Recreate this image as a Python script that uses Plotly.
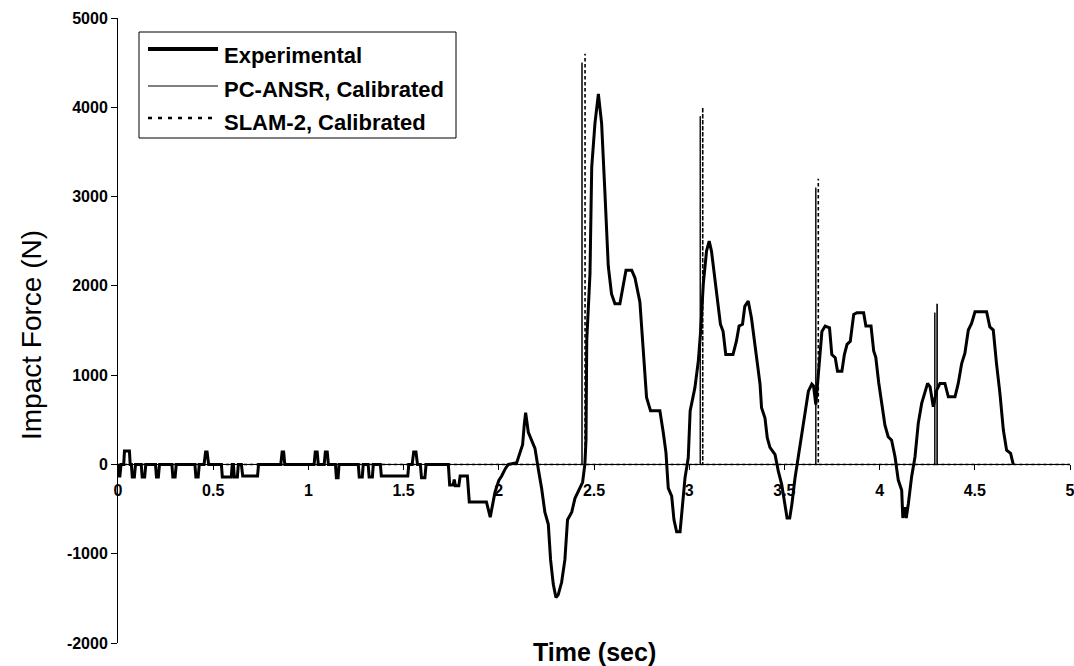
import plotly.graph_objects as go

# ---------------- data ----------------
exp_t = [0.000, 0.003, 0.010, 0.016, 0.030, 0.034, 0.060, 0.064, 0.070, 0.075, 0.086, 0.092,
         0.122, 0.127, 0.140, 0.146, 0.197, 0.202, 0.212, 0.218, 0.283, 0.288, 0.300, 0.306,
         0.404, 0.409, 0.421, 0.427, 0.452, 0.460, 0.468, 0.476, 0.543, 0.548, 0.595, 0.600,
         0.606, 0.611, 0.627, 0.632, 0.648, 0.655, 0.733, 0.738, 0.855, 0.862, 0.870, 0.876,
         1.030, 1.036, 1.046, 1.052, 1.083, 1.089, 1.099, 1.105, 1.142, 1.147, 1.156, 1.161,
         1.262, 1.267, 1.283, 1.288, 1.314, 1.319, 1.336, 1.341, 1.378, 1.383, 1.522, 1.527,
         1.545, 1.553, 1.565, 1.573, 1.588, 1.594, 1.612, 1.618, 1.735, 1.742, 1.760, 1.766,
         1.772, 1.790, 1.797, 1.835, 1.845, 1.935, 1.955, 1.965, 1.980, 2.000, 2.015, 2.035,
         2.050, 2.094, 2.110, 2.125, 2.134, 2.141, 2.155, 2.172, 2.190, 2.207, 2.225, 2.242,
         2.260, 2.272, 2.286, 2.300, 2.312, 2.330, 2.347, 2.361, 2.383, 2.400, 2.418, 2.440,
         2.452, 2.458, 2.462, 2.479, 2.488, 2.505, 2.523, 2.540, 2.557, 2.575, 2.592, 2.610,
         2.636, 2.654, 2.668, 2.698, 2.715, 2.741, 2.759, 2.776, 2.797, 2.846, 2.864, 2.878,
         2.890, 2.908, 2.920, 2.934, 2.952, 2.978, 2.995, 3.005, 3.030, 3.048, 3.060, 3.074,
         3.091, 3.105, 3.117, 3.134, 3.151, 3.164, 3.178, 3.192, 3.230, 3.248, 3.262, 3.280,
         3.292, 3.310, 3.327, 3.345, 3.363, 3.372, 3.380, 3.398, 3.410, 3.424, 3.451, 3.468,
         3.486, 3.504, 3.514, 3.528, 3.539, 3.556, 3.574, 3.591, 3.609, 3.626, 3.644, 3.653,
         3.665, 3.676, 3.688, 3.697, 3.714, 3.737, 3.749, 3.767, 3.779, 3.802, 3.815, 3.829,
         3.846, 3.864, 3.881, 3.916, 3.928, 3.955, 3.969, 3.980, 3.995, 4.010, 4.028, 4.045,
         4.063, 4.081, 4.098, 4.116, 4.122, 4.132, 4.140, 4.151, 4.168, 4.186, 4.203, 4.221,
         4.238, 4.252, 4.265, 4.282, 4.300, 4.317, 4.343, 4.361, 4.396, 4.413, 4.431, 4.448,
         4.466, 4.483, 4.501, 4.562, 4.579, 4.597, 4.614, 4.632, 4.650, 4.667, 4.688, 4.702]
exp_v = [0, -130, -130, 0, 0, 150, 150, 0, 0, -140, -140, 0,
         0, -140, -140, 0, 0, -140, -140, 0, 0, -140, -140, 0,
         0, -140, -140, 0, 0, 140, 140, 0, 0, -140, -140, 0,
         0, -140, -140, 0, 0, -130, -130, 0, 0, 140, 140, 0,
         0, 140, 140, 0, 0, 140, 140, 0, 0, -150, -150, 0,
         0, -140, -140, 0, 0, -140, -140, 0, 0, -130, -130, 0,
         0, 140, 140, 0, 0, -150, -150, 0, 0, -230, -230, -170,
         -240, -240, -130, -130, -420, -420, -590, -470, -310, -180, -130, -45,
         0, 20, 130, 220, 450, 580, 360, 270, 180, -45, -270, -535,
         -670, -1070, -1340, -1490, -1460, -1320, -1070, -620, -535, -380, -290, -200,
         0, 270, 1390, 2140, 3330, 3820, 4150, 3820, 3060, 2220, 1910, 1800,
         1800, 2000, 2175, 2175, 2090, 1820, 1290, 750, 600, 600, 355, 133,
         -266, -355, -620, -755, -755, -150, 75, 600, 860, 1160, 1490, 2020,
         2390, 2500, 2390, 2090, 1830, 1570, 1490, 1230, 1230, 1380, 1550, 1570,
         1770, 1830, 1640, 1340, 1045, 900, 635, 520, 300, 190, 110, -75,
         -225, -485, -600, -600, -450, -150, 110, 335, 600, 820, 900, 880,
         670, 970, 1270, 1490, 1550, 1530, 1230, 1195, 1045, 1045, 1230, 1345,
         1380, 1680, 1700, 1700, 1550, 1550, 1270, 1200, 920, 683, 440, 310,
         272, 86, -175, -290, -600, -480, -600, -440, -140, 86, 460, 683,
         815, 907, 870, 646, 832, 907, 907, 758, 758, 907, 1130, 1245,
         1505, 1580, 1710, 1710, 1540, 1505, 1130, 795, 385, 160, 123, 0]

pc_t = [0.0, 2.437, 2.437, 2.437, 3.058, 3.058, 3.058, 3.665, 3.665, 3.665, 4.290, 4.290, 4.290, 5.0]
pc_v = [0, 0, 4500, 0, 0, 3900, 0, 0, 3100, 0, 0, 1700, 0, 0]

slam_t = [0.0, 2.453, 2.453, 2.453, 3.071, 3.071, 3.071, 3.678, 3.678, 3.678, 4.302, 4.302, 4.302, 5.0]
slam_v = [0, 0, 4600, 0, 0, 4000, 0, 0, 3200, 0, 0, 1800, 0, 0]

series_names = ["Experimental", "PC-ANSR, Calibrated", "SLAM-2, Calibrated"]
x_ticks = [0, 0.5, 1, 1.5, 2, 2.5, 3, 3.5, 4, 4.5, 5]
x_ticktext = ["0", "0.5", "1", "1.5", "2", "2.5", "3", "3.5", "4", "4.5", "5"]
y_ticks = [-2000, -1000, 0, 1000, 2000, 3000, 4000, 5000]
y_ticktext = ["-2000", "-1000", "0", "1000", "2000", "3000", "4000", "5000"]
x_title = "Time (sec)"
y_title = "Impact Force (N)"

FONT = "Liberation Sans, Arial, Helvetica, sans-serif"

fig = go.Figure()
fig.add_trace(go.Scatter(x=slam_t, y=slam_v, mode="lines", name=series_names[2],
                         line=dict(color="black", width=1.6, dash="3px,3px")))
fig.add_trace(go.Scatter(x=pc_t, y=pc_v, mode="lines", name=series_names[1],
                         line=dict(color="black", width=1)))
fig.add_trace(go.Scatter(x=exp_t, y=exp_v, mode="lines", name=series_names[0],
                         line=dict(color="black", width=3)))

# plot area geometry (pixels) used to place legend pieces in paper coords
L, R, T, B = 118, 4, 18, 23
W, H = 1074 - L - R, 666 - T - B


def px(x):
    return (x - L) / W


def py(y):
    return (666 - B - y) / H


shapes = [
    dict(type="rect", xref="paper", yref="paper", x0=px(139), x1=px(456), y0=py(138), y1=py(32),
         line=dict(color="black", width=1), fillcolor="white", layer="above"),
    dict(type="line", xref="paper", yref="paper", x0=px(148), x1=px(218), y0=py(49), y1=py(49),
         line=dict(color="black", width=4)),
    dict(type="line", xref="paper", yref="paper", x0=px(148), x1=px(218), y0=py(86), y1=py(86),
         line=dict(color="black", width=1)),
    dict(type="line", xref="paper", yref="paper", x0=px(148), x1=px(218), y0=py(118), y1=py(118),
         line=dict(color="black", width=2.5, dash="4px,6px")),
]
annotations = []
for name, yy in zip(series_names, [55, 90, 122]):
    annotations.append(dict(text=name, xref="paper", yref="paper", x=px(222), y=py(yy),
                            xanchor="left", yanchor="middle", showarrow=False,
                            font=dict(family=FONT, size=22, color="black", weight="bold")))
annotations.append(dict(text=x_title, xref="paper", yref="paper", x=px(594), y=py(652),
                        xanchor="center", yanchor="middle", showarrow=False,
                        font=dict(family=FONT, size=25, color="black", weight="bold")))
annotations.append(dict(text=y_title, xref="paper", yref="paper", x=px(31), y=py(335),
                        xanchor="center", yanchor="middle", showarrow=False, textangle=-90,
                        font=dict(family=FONT, size=28, color="black")))

fig.update_layout(
    width=1074, height=666,
    margin=dict(l=L, r=R, t=T, b=B),
    paper_bgcolor="white", plot_bgcolor="white",
    showlegend=False,
    shapes=shapes, annotations=annotations,
    xaxis=dict(range=[0, 5], tickmode="array", tickvals=x_ticks, ticktext=x_ticktext,
               showgrid=False, zeroline=False,
               showline=True, linecolor="black", linewidth=1,
               anchor="free", position=2 / 7,
               ticks="outside", ticklen=5, tickcolor="black",
               ticklabelstandoff=6, ticklabeloverflow="allow",
               tickfont=dict(family=FONT, size=16, color="black", weight="bold"),
               automargin=False),
    yaxis=dict(range=[-2000, 5000], tickmode="array", tickvals=y_ticks, ticktext=y_ticktext,
               showgrid=False, zeroline=False,
               showline=True, linecolor="black", linewidth=1,
               ticks="outside", ticklen=6, tickcolor="black",
               tickfont=dict(family=FONT, size=16, color="black", weight="bold"),
               automargin=False),
)

fig.write_html("out.html", config={"displayModeBar": False},
               post_script="document.body.style.margin='0px';")
